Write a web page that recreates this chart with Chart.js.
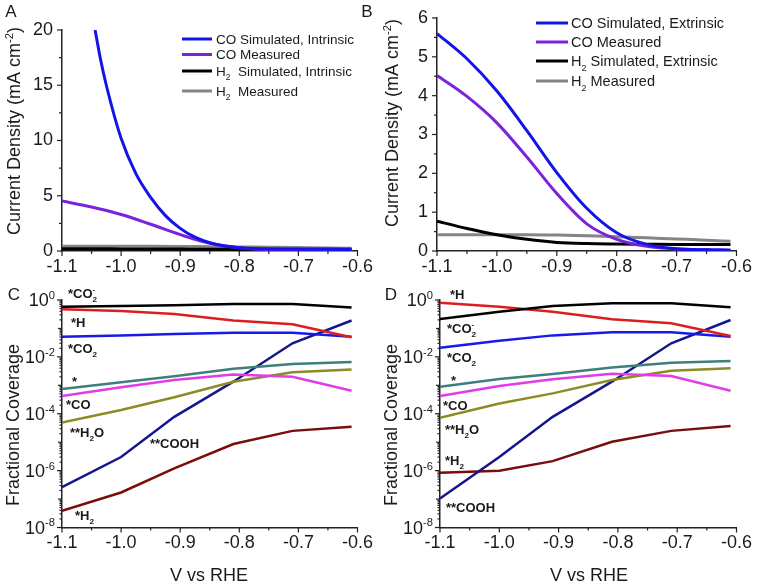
<!DOCTYPE html>
<html>
<head>
<meta charset="utf-8">
<script src="https://cdn.jsdelivr.net/npm/chart.js@4.4.1/dist/chart.umd.min.js"></script>
<style>
  html,body{margin:0;padding:0;background:#fff;overflow:hidden;}
  #wrap{position:relative;width:757px;height:583px;background:#fff;}
  canvas{position:absolute;}
</style>
</head>
<body>
<div id="wrap">
  <canvas id="cA" width="378" height="280" style="left:0;top:0;width:378px;height:280px"></canvas>
  <canvas id="cB" width="379" height="280" style="left:378px;top:0;width:379px;height:280px"></canvas>
  <canvas id="cC" width="378" height="303" style="left:0;top:280px;width:378px;height:303px"></canvas>
  <canvas id="cD" width="379" height="303" style="left:378px;top:280px;width:379px;height:303px"></canvas>
</div>
<script>
const FONT = '"Liberation Sans", Arial, Helvetica, sans-serif';

// ---------- Panels A & B : current density (mA cm^-2) vs V ----------
const vGrid = [-1.1, -1.05, -1.0, -0.95, -0.9, -0.85, -0.8, -0.75, -0.7, -0.65, -0.61];
const coSimIntrinsicV = [-1.044, -1.035, -1.025, -1.0, -0.975, -0.95, -0.925, -0.9, -0.875, -0.85, -0.825, -0.8, -0.775, -0.75, -0.7, -0.65, -0.61];
const coSimIntrinsic  = [20, 17.4, 15.0, 10.2, 7.0, 4.85, 3.2, 2.05, 1.25, 0.75, 0.45, 0.3, 0.22, 0.19, 0.16, 0.15, 0.14];
const coMeasured      = [4.52, 3.98, 3.3, 2.42, 1.48, 0.7, 0.3, 0.12, 0.05, 0.03, 0.02];
const h2SimIntrinsic  = [0.2, 0.2, 0.19, 0.18, 0.17, 0.16, 0.16, 0.15, 0.15, 0.15, 0.15];
const h2Measured      = [0.42, 0.42, 0.42, 0.42, 0.41, 0.39, 0.37, 0.34, 0.31, 0.28, 0.25];
const coSimExtrinsic  = [5.6, 4.95, 4.12, 3.1, 2.02, 1.1, 0.47, 0.17, 0.06, 0.03, 0.02];
const h2SimExtrinsic  = [0.77, 0.58, 0.42, 0.3, 0.22, 0.19, 0.18, 0.175, 0.17, 0.17, 0.17];

// ---------- Panels C & D : fractional coverage vs V ----------
const vNodes = [-1.1, -1.0, -0.91, -0.81, -0.71, -0.61];
// C (intrinsic)
const cCO2minus = [0.58, 0.61, 0.66, 0.72, 0.72, 0.55];
const cH        = [0.47, 0.41, 0.32, 0.19, 0.14, 0.049];
const cCO2      = [0.051, 0.057, 0.064, 0.071, 0.071, 0.051];
const cStar     = [7.4e-4, 1.27e-3, 2.1e-3, 3.8e-3, 5.6e-3, 6.6e-3];
const cCO       = [4.2e-4, 8.5e-4, 1.53e-3, 2.42e-3, 2.0e-3, 6.4e-4];
const cH2O      = [4.95e-5, 1.35e-4, 3.8e-4, 1.34e-3, 2.9e-3, 3.6e-3];
const cCOOH     = [2.6e-7, 3.0e-6, 7.8e-5, 1.34e-3, 0.030, 0.19];
const cH2       = [3.9e-8, 1.7e-7, 1.2e-6, 8.6e-6, 2.5e-5, 3.5e-5];
// D (extrinsic)
const dCO2minus = [0.214, 0.388, 0.615, 0.763, 0.763, 0.552];
const dH        = [0.806, 0.582, 0.388, 0.209, 0.151, 0.054];
const dCO2      = [0.021, 0.037, 0.057, 0.073, 0.073, 0.051];
const dStar     = [8.9e-4, 1.66e-3, 2.5e-3, 4.27e-3, 6.2e-3, 7.1e-3];
const dCO       = [4.2e-4, 9.4e-4, 1.62e-3, 2.56e-3, 2.12e-3, 6.4e-4];
const dH2O      = [7.2e-5, 2.3e-4, 5.2e-4, 1.53e-3, 3.26e-3, 4.0e-3];
const dCOOH     = [1.05e-7, 3.0e-6, 7.8e-5, 1.34e-3, 0.030, 0.198];
const dH2       = [8.4e-7, 9.9e-7, 2.16e-6, 1.04e-5, 2.5e-5, 3.7e-5];

// ---------- ticks ----------
const xMajor  = [-1.1, -1.0, -0.9, -0.8, -0.7, -0.6];
const xLabels = ['-1.1', '-1.0', '-0.9', '-0.8', '-0.7', '-0.6'];
const xMinor  = [-1.05, -0.95, -0.85, -0.75, -0.65];
const yMajorA = [0, 5, 10, 15, 20];
const yLabelsA = ['0', '5', '10', '15', '20'];
const yMinorA = [2.5, 7.5, 12.5, 17.5];
const yMajorB = [0, 1, 2, 3, 4, 5, 6];
const yLabelsB = ['0', '1', '2', '3', '4', '5', '6'];
const yMinorB = [0.5, 1.5, 2.5, 3.5, 4.5, 5.5];
const logMajor  = [1e-8, 1e-6, 1e-4, 1e-2, 1];
const logLabels = ['10\u207B\u2078', '10\u207B\u2076', '10\u207B\u2074', '10\u207B\u00B2', '10\u2070'];
const logMid = [1e-7, 1e-5, 1e-3, 1e-1];
const logMinor = [];
for (let e = -8; e < 0; e++) for (let m = 2; m <= 9; m++) logMinor.push(m * Math.pow(10, e));

// ---------- rich text helper (sub/superscripts) ----------
const SUB = {'\u2080':'0','\u2081':'1','\u2082':'2','\u2083':'3','\u2084':'4','\u2085':'5','\u2086':'6','\u2087':'7','\u2088':'8','\u2089':'9'};
const SUP = {'\u2070':'0','\u00B9':'1','\u00B2':'2','\u00B3':'3','\u2074':'4','\u2075':'5','\u2076':'6','\u2077':'7','\u2078':'8','\u2079':'9','\u207B':'-'};
function runs(s){
  const out = [];
  for (const ch of s){
    const m = SUB[ch] !== undefined ? 'sub' : (SUP[ch] !== undefined ? 'sup' : 'n');
    const c = m === 'sub' ? SUB[ch] : (m === 'sup' ? SUP[ch] : ch);
    const last = out[out.length-1];
    if (last && last.mode === m) last.text += c; else out.push({mode:m, text:c});
  }
  return out;
}
function drawRich(ctx, str, x, y, size, weight, color, align, rot){
  const rs = runs(str);
  const items = []; let cx = 0, prevStart = 0, prevMode = null;
  for (const r of rs){
    const fs = r.mode === 'n' ? size : size*0.62;
    ctx.font = weight + ' ' + fs + 'px ' + FONT;
    const w = ctx.measureText(r.text).width;
    let sx = cx;
    if (prevMode && prevMode !== 'n' && r.mode !== 'n' && prevMode !== r.mode) sx = prevStart;
    items.push({text:r.text, fs, sx, mode:r.mode});
    cx = Math.max(cx, sx + w);
    prevStart = sx; prevMode = r.mode;
  }
  const ox = align === 'center' ? -cx/2 : (align === 'right' ? -cx : 0);
  ctx.save();
  ctx.translate(x, y);
  if (rot) ctx.rotate(rot);
  ctx.fillStyle = color; ctx.textBaseline = 'alphabetic'; ctx.textAlign = 'left';
  const base = size*0.36;
  for (const it of items){
    ctx.font = weight + ' ' + it.fs + 'px ' + FONT;
    const dy = it.mode === 'sub' ? size*0.3 : (it.mode === 'sup' ? -size*0.42 : 0);
    ctx.fillText(it.text, ox + it.sx, base + dy);
  }
  ctx.restore();
}

// ---------- annotation plugin: tick marks, rich tick labels, legend, texts ----------
const annot = {
  id: 'annot',
  afterDraw(chart, args, o){
    const ctx = chart.ctx;
    ctx.save();
    (o.ticks || []).forEach(t => {
      const s = chart.scales[t.scale];
      ctx.strokeStyle = '#222'; ctx.lineWidth = 1.2;
      t.values.forEach(v => {
        const p = s.getPixelForValue(v);
        ctx.beginPath();
        if (s.isHorizontal()){ ctx.moveTo(p, s.top); ctx.lineTo(p, s.top + t.len); }
        else { ctx.moveTo(s.right, p); ctx.lineTo(s.right - t.len, p); }
        ctx.stroke();
      });
    });
    if (o.richYLabels){
      const R = o.richYLabels; const s = chart.scales.y;
      R.values.forEach((v, i) => drawRich(ctx, R.labels[i], s.right - R.pad, s.getPixelForValue(v), R.size, 'normal', '#1a1a1a', 'right', 0));
    }
    if (o.legend){
      const L = o.legend;
      chart.data.datasets.forEach((ds, i) => {
        const y = L.rows[i];
        ctx.strokeStyle = ds.borderColor; ctx.lineWidth = ds.borderWidth;
        ctx.beginPath(); ctx.moveTo(L.x1, y); ctx.lineTo(L.x2, y); ctx.stroke();
        drawRich(ctx, ds.label, L.tx, y, L.size, 'normal', '#1a1a1a', 'left', 0);
      });
    }
    (o.texts || []).forEach(t => drawRich(ctx, t.text, t.x, t.y, t.size, t.weight || 'normal', t.color || '#1a1a1a', t.align || 'left', t.rot || 0));
    ctx.restore();
  }
};

function pts(xs, ys){ return xs.map((x, i) => ({x, y: ys[i]})); }

function makeChart(id, W, H, area, datasets, yScale, annotOpts){
  return new Chart(document.getElementById(id), {
    type: 'line',
    data: {datasets},
    options: {
      responsive: false, animation: false, devicePixelRatio: 1,
      layout: {padding: {top: area.top, right: W - area.right, left: 0, bottom: 0}},
      plugins: {legend: {display: false}, tooltip: {enabled: false}, annot: annotOpts},
      elements: {point: {radius: 0}},
      scales: {
        x: {
          type: 'linear', min: -1.1, max: -0.6,
          afterBuildTicks: s => { s.ticks = xMajor.map(v => ({value: v})); },
          afterFit: s => { s.height = H - area.bottom; },
          ticks: {autoSkip: false, maxRotation: 0, minRotation: 0, padding: 5, color: '#1a1a1a',
                  font: {size: 18, family: FONT}, callback: (v, i) => xLabels[i]},
          grid: {display: false, drawTicks: false},
          border: {display: true, color: '#222', width: 1.5}
        },
        y: Object.assign({
          afterFit: s => { s.width = area.left; },
          grid: {display: false, drawTicks: false},
          border: {display: true, color: '#222', width: 1.5}
        }, yScale)
      }
    },
    plugins: [annot]
  });
}

function linY(min, max, major, labels){
  return {type: 'linear', min, max,
    afterBuildTicks: s => { s.ticks = major.map(v => ({value: v})); },
    ticks: {autoSkip: false, padding: 9, color: '#1a1a1a', font: {size: 18, family: FONT, lineHeight: 1},
            callback: (v, i) => labels[i]}};
}
function logY(){
  return {type: 'logarithmic', min: 1e-8, max: 1,
    afterBuildTicks: s => { s.ticks = logMajor.map(v => ({value: v})); },
    ticks: {display: false, autoSkip: false}};
}

const lineDS = (label, xs, ys, color, w, smooth) => ({
  label, data: pts(xs, ys), borderColor: color, backgroundColor: color, borderWidth: w,
  fill: false, pointRadius: 0, cubicInterpolationMode: smooth ? 'monotone' : 'default', tension: 0
});

const COL = {blue:'#1414e6', purple:'#7b22dc', black:'#000000', gray:'#858585'};
const CC = {black:'#000000', red:'#dc1e1e', blue:'#1a1ae8', teal:'#3e7f7b', magenta:'#e03ce8', olive:'#8c8c24', navy:'#16168c', darkred:'#7a0c0c'};

const xTicks = () => [{scale:'x', values:xMajor, len:5}, {scale:'x', values:xMinor, len:3}];
const logTicks = () => [{scale:'y', values:logMajor, len:5}, {scale:'y', values:logMid, len:4}, {scale:'y', values:logMinor, len:2.5}];

// Panel A
makeChart('cA', 378, 280, {left:62, right:362, top:30, bottom:251}, [
  lineDS('CO Simulated, Intrinsic', coSimIntrinsicV, coSimIntrinsic, COL.blue, 3, true),
  lineDS('CO Measured', vGrid, coMeasured, COL.purple, 3, true),
  lineDS('H\u2082  Simulated, Intrinsic', vGrid, h2SimIntrinsic, COL.black, 3, true),
  lineDS('H\u2082  Measured', vGrid, h2Measured, COL.gray, 3, true)
], linY(0, 20, yMajorA, yLabelsA), {
  ticks: [...xTicks(), {scale:'y', values:yMajorA, len:5}, {scale:'y', values:yMinorA, len:3}],
  legend: {x1:182, x2:212, tx:216, rows:[39, 54.5, 71, 91], size:13.5},
  texts: [
    {text:'A', x:11, y:11, size:17, align:'center'},
    {text:'B', x:367, y:11, size:17, align:'center'},
    {text:'Current Density (mA cm\u207B\u00B2)', x:14, y:131, size:18, align:'center', rot:-Math.PI/2}
  ]
});

// Panel B
makeChart('cB', 379, 280, {left:59, right:359, top:10, bottom:251}, [
  lineDS('CO Simulated, Extrinsic', vGrid, coSimExtrinsic, COL.blue, 3, true),
  lineDS('CO Measured', vGrid, coMeasured, COL.purple, 3, true),
  lineDS('H\u2082 Simulated, Extrinsic', vGrid, h2SimExtrinsic, COL.black, 3, true),
  lineDS('H\u2082 Measured', vGrid, h2Measured, COL.gray, 3, true)
], linY(0, 6, yMajorB, yLabelsB), {
  ticks: [...xTicks(), {scale:'y', values:yMajorB, len:5}, {scale:'y', values:yMinorB, len:3}],
  legend: {x1:158, x2:190, tx:193, rows:[23, 42, 61, 81], size:14.5},
  texts: [
    {text:'Current Density (mA cm\u207B\u00B2)', x:14, y:123, size:18, align:'center', rot:-Math.PI/2}
  ]
});

// Panel C
makeChart('cC', 378, 303, {left:62, right:362, top:20, bottom:247.5}, [
  lineDS('*CO\u2082\u207B', vNodes, cCO2minus, CC.black, 2.5, false),
  lineDS('*H', vNodes, cH, CC.red, 2.5, false),
  lineDS('*CO\u2082', vNodes, cCO2, CC.blue, 2.5, false),
  lineDS('*', vNodes, cStar, CC.teal, 2.5, false),
  lineDS('*CO', vNodes, cCO, CC.magenta, 2.5, false),
  lineDS('**H\u2082O', vNodes, cH2O, CC.olive, 2.5, false),
  lineDS('**COOH', vNodes, cCOOH, CC.navy, 2.5, false),
  lineDS('*H\u2082', vNodes, cH2, CC.darkred, 2.5, false)
], logY(), {
  ticks: [...xTicks(), ...logTicks()],
  richYLabels: {values: logMajor, labels: logLabels, pad: 7, size: 18},
  texts: [
    {text:'C', x:14, y:14, size:17, align:'center'},
    {text:'Fractional Coverage', x:13, y:145, size:18, align:'center', rot:-Math.PI/2},
    {text:'V vs RHE', x:209, y:295, size:18, align:'center'},
    {text:'*CO\u2082\u207B', x:68, y:13, size:13, weight:'bold'},
    {text:'*H', x:71, y:42, size:13, weight:'bold'},
    {text:'*CO\u2082', x:68, y:68, size:13, weight:'bold'},
    {text:'*', x:72, y:101, size:13, weight:'bold'},
    {text:'*CO', x:66, y:124, size:13, weight:'bold'},
    {text:'**H\u2082O', x:70, y:152, size:13, weight:'bold'},
    {text:'**COOH', x:150, y:163, size:13, weight:'bold'},
    {text:'*H\u2082', x:75, y:235, size:13, weight:'bold'}
  ]
});

// Panel D
makeChart('cD', 379, 303, {left:62, right:361, top:20, bottom:247.5}, [
  lineDS('*CO\u2082\u207B', vNodes, dCO2minus, CC.black, 2.5, false),
  lineDS('*H', vNodes, dH, CC.red, 2.5, false),
  lineDS('*CO\u2082', vNodes, dCO2, CC.blue, 2.5, false),
  lineDS('*', vNodes, dStar, CC.teal, 2.5, false),
  lineDS('*CO', vNodes, dCO, CC.magenta, 2.5, false),
  lineDS('**H\u2082O', vNodes, dH2O, CC.olive, 2.5, false),
  lineDS('**COOH', vNodes, dCOOH, CC.navy, 2.5, false),
  lineDS('*H\u2082', vNodes, dH2, CC.darkred, 2.5, false)
], logY(), {
  ticks: [...xTicks(), ...logTicks()],
  richYLabels: {values: logMajor, labels: logLabels, pad: 7, size: 18},
  texts: [
    {text:'D', x:13, y:14, size:17, align:'center'},
    {text:'Fractional Coverage', x:13, y:145, size:18, align:'center', rot:-Math.PI/2},
    {text:'V vs RHE', x:211, y:295, size:18, align:'center'},
    {text:'*H', x:72, y:14, size:13, weight:'bold'},
    {text:'*CO\u2082\u207B', x:69, y:48, size:13, weight:'bold'},
    {text:'*CO\u2082', x:69, y:77, size:13, weight:'bold'},
    {text:'*', x:73, y:100, size:13, weight:'bold'},
    {text:'*CO', x:65, y:125, size:13, weight:'bold'},
    {text:'**H\u2082O', x:67, y:149, size:13, weight:'bold'},
    {text:'*H\u2082', x:67, y:180, size:13, weight:'bold'},
    {text:'**COOH', x:68, y:227, size:13, weight:'bold'}
  ]
});
</script>
</body>
</html>
